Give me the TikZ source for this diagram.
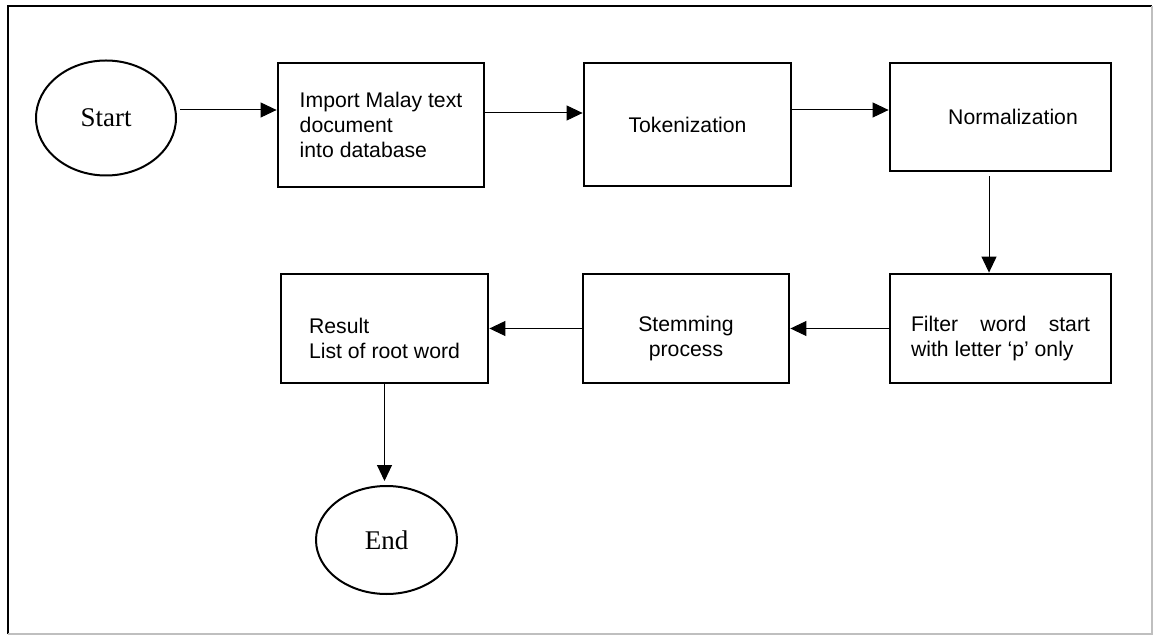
\documentclass[tikz,border=0pt]{standalone}
\usepackage{fontspec}
\setmainfont{Liberation Sans}
\newfontfamily\serifrm{Liberation Serif}
\usetikzlibrary{arrows.meta,shapes.geometric}
\newcommand{\lowstrut}{\rule{0pt}{17.5pt}}

\begin{document}
\begin{tikzpicture}[x=0.5pt,y=-0.5pt,
  box/.style={draw,line width=1.4pt,align=left,inner sep=0pt,
    font=\fontsize{10.6}{12.5}\selectfont},
  oval/.style={draw,ellipse,line width=1pt,inner sep=0pt,
    font=\serifrm\fontsize{13.5}{15}\selectfont},
  arr/.style={line width=0.5pt,-{Triangle[length=8pt,width=7.5pt]}}]
\useasboundingbox (0,0) rectangle (1154,635);
% frame
\draw[line width=1pt] (8,634) -- (8,6) -- (1152,6);
\draw[black!25,line width=0.8pt] (8,634) -- (1152,634) -- (1152,6);

% top row
\node[oval,minimum width=70pt,minimum height=57.5pt] (start) at (106,118) {Start};
\node[box,minimum width=103pt,minimum height=62pt] (imp) at (381,125)
  {Import Malay text\\document\\into database};
\node[box,minimum width=103.5pt,minimum height=61.5pt] (tok) at (687.5,124.5) {Tokenization};
\node[box,minimum width=110.5pt,minimum height=54pt] (nor) at (1000.5,117)
  {\hspace*{12.5pt}Normalization};

% bottom row
\node[box,minimum width=110.5pt,minimum height=54.5pt,align=justify,text width=89.5pt]
  (fil) at (1000.5,328.5) {\lowstrut Filter word start\linebreak with letter ‘p’ only};
\node[box,minimum width=103pt,minimum height=54.5pt,align=center] (stm) at (686,328.5)
  {\lowstrut Stemming\\process};
\node[box,minimum width=103.5pt,minimum height=54.5pt] (res) at (384.5,328.5)
  {\lowstrut Result\\List of root word};
\node[oval,minimum width=70.5pt,minimum height=54pt] (end) at (386.5,540) {End};

% arrows
\draw[arr] ([xshift=1.5pt,yshift=4pt]start.east) -- ([yshift=7.5pt]imp.west);
\draw[arr] ([yshift=6pt]imp.east) -- ([yshift=6pt]imp.east -| tok.west);
\draw[arr] ([yshift=7.25pt]tok.east) -- ([yshift=7.25pt]tok.east -| nor.west);
\draw[arr] ([xshift=-5.75pt,yshift=-2pt]nor.south) -- ([xshift=-5.75pt]fil.north);
\draw[arr] (fil.west) -- (stm.east);
\draw[arr] (stm.west) -- (res.east);
\draw[arr] (res.south) -- ([yshift=2pt]res.south |- end.north);
\end{tikzpicture}
\end{document}
